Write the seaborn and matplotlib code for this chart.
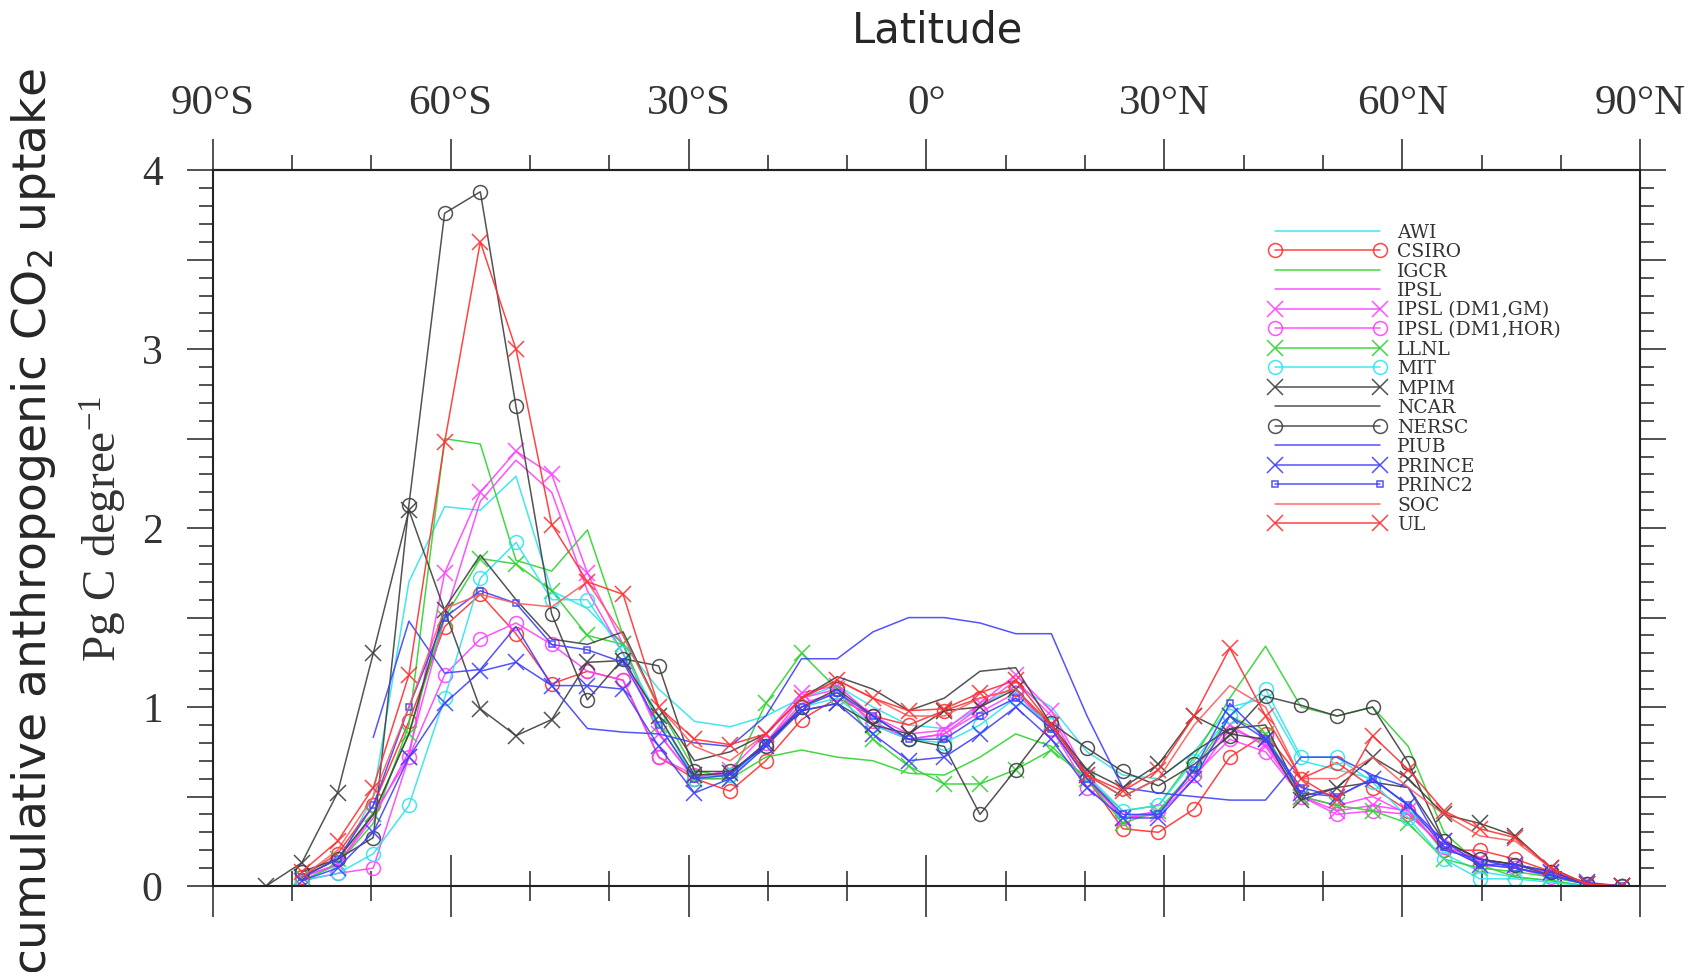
import numpy as np
import matplotlib
matplotlib.use("Agg")
import matplotlib.pyplot as plt
from matplotlib.ticker import MultipleLocator, FuncFormatter
from matplotlib.font_manager import FontProperties
import seaborn as sns

nan = np.nan

# latitude of each 4.5 degree band centre
lat = [-83.25, -78.75, -74.25, -69.75, -65.25, -60.75, -56.25, -51.75, -47.25, -42.75,
       -38.25, -33.75, -29.25, -24.75, -20.25, -15.75, -11.25, -6.75, -2.25, 2.25,
       6.75, 11.25, 15.75, 20.25, 24.75, 29.25, 33.75, 38.25, 42.75, 47.25,
       51.75, 56.25, 60.75, 65.25, 69.75, 74.25, 78.75, 83.25, 87.75]

awi = [nan, 0.03, 0.12, 0.5, 1.7, 2.12, 2.1, 2.29, 1.65, 1.55, 1.35, 1.1, 0.92, 0.89, 0.95,
       1.05, 1.12, 1.0, 0.9, 0.88, 1.0, 1.12, 1.0, 0.75, 0.62, 0.6, 0.75, 1.0, 1.05, 0.7,
       0.65, 0.6, 0.45, 0.18, 0.08, 0.05, 0.03, 0.0, 0.0]
csiro = [nan, 0.05, 0.18, 0.45, 0.92, 1.45, 1.63, 1.41, 1.13, 1.2, 1.15, 0.72, 0.6, 0.53, 0.7,
         0.93, 1.05, 0.95, 0.9, 0.98, 1.05, 1.1, 0.88, 0.6, 0.32, 0.3, 0.43, 0.72, 0.85, 0.6,
         0.69, 0.55, 0.42, 0.2, 0.2, 0.15, 0.08, 0.01, 0.0]
igcr = [nan, 0.03, 0.12, 0.35, 0.9, 2.5, 2.47, 1.82, 1.76, 1.99, 1.4, 1.0, 0.65, 0.6, 0.72,
        0.76, 0.72, 0.7, 0.63, 0.62, 0.72, 0.85, 0.78, 0.6, 0.42, 0.45, 0.72, 1.05, 1.34, 1.0,
        0.95, 1.0, 0.78, 0.3, 0.12, 0.05, 0.03, 0.0, 0.0]
ipsl = [nan, 0.05, 0.12, 0.38, 0.75, 1.5, 2.15, 2.38, 2.2, 1.65, 1.3, 0.85, 0.6, 0.6, 0.8,
        1.05, 1.1, 0.9, 0.82, 0.85, 1.0, 1.15, 0.95, 0.6, 0.38, 0.4, 0.6, 0.88, 0.8, 0.5,
        0.45, 0.5, 0.4, 0.22, 0.15, 0.1, 0.06, 0.01, 0.0]
ipsl_gm = [nan, 0.05, 0.12, 0.4, 0.72, 1.75, 2.2, 2.43, 2.3, 1.75, 1.35, 0.85, 0.6, 0.65, 0.85,
           1.08, 1.12, 0.95, 0.85, 0.87, 1.02, 1.18, 0.98, 0.62, 0.38, 0.4, 0.65, 0.9, 0.78, 0.5,
           0.42, 0.45, 0.42, 0.25, 0.15, 0.12, 0.07, 0.01, 0.0]
ipsl_hor = [nan, 0.03, 0.07, 0.1, 0.72, 1.18, 1.38, 1.47, 1.35, 1.2, 1.15, 0.72, 0.62, 0.62, 0.8,
            1.02, 1.08, 0.92, 0.82, 0.85, 0.97, 1.08, 0.88, 0.55, 0.38, 0.42, 0.62, 0.82, 0.75, 0.5,
            0.4, 0.42, 0.4, 0.22, 0.12, 0.1, 0.05, 0.01, 0.0]
llnl = [nan, 0.05, 0.15, 0.4, 0.85, 1.5, 1.83, 1.8, 1.65, 1.4, 1.35, 0.9, 0.6, 0.6, 1.02,
        1.3, 1.1, 0.82, 0.67, 0.57, 0.57, 0.65, 0.76, 0.6, 0.35, 0.42, 0.65, 0.95, 0.85, 0.5,
        0.45, 0.42, 0.35, 0.15, 0.1, 0.08, 0.05, 0.01, 0.0]
mit = [nan, 0.03, 0.07, 0.18, 0.45, 1.05, 1.72, 1.92, 1.6, 1.6, 1.3, 0.95, 0.6, 0.62, 0.78,
       1.0, 1.05, 0.9, 0.82, 0.8, 0.9, 1.05, 0.9, 0.62, 0.42, 0.45, 0.7, 0.95, 1.1, 0.72,
       0.72, 0.58, 0.38, 0.15, 0.04, 0.04, 0.02, 0.0, 0.0]
mpim = [0.0, 0.13, 0.52, 1.3, 2.1, 1.54, 0.99, 0.84, 0.93, 1.25, 1.26, 0.95, 0.62, 0.63, 0.8,
        0.98, 1.02, 0.9, 0.85, 0.98, 1.0, 1.1, 0.9, 0.65, 0.55, 0.68, 0.95, 0.85, 0.82, 0.48,
        0.55, 0.72, 0.6, 0.4, 0.35, 0.28, 0.1, 0.01, 0.0]
ncar = [nan, 0.05, 0.15, 0.4, 0.85, 1.55, 1.85, 1.6, 1.38, 1.35, 1.42, 1.0, 0.7, 0.75, 0.85,
        1.05, 1.17, 1.1, 0.98, 1.05, 1.2, 1.22, 0.9, 0.62, 0.5, 0.6, 0.75, 0.88, 0.9, 0.5,
        0.55, 0.58, 0.55, 0.25, 0.15, 0.12, 0.06, 0.01, 0.0]
nersc = [nan, 0.08, 0.15, 0.27, 2.13, 3.76, 3.88, 2.68, 1.52, 1.04, 1.27, 1.23, 0.64, 0.64, 0.78,
         1.0, 1.1, 0.95, 0.82, 0.78, 0.40, 0.65, 0.91, 0.77, 0.64, 0.56, 0.68, 0.84, 1.06, 1.01,
         0.95, 1.0, 0.69, 0.25, 0.15, 0.12, 0.08, 0.01, 0.0]
piub = [nan, nan, nan, 0.83, 1.48, 1.19, 1.21, 1.45, 1.12, 0.88, 0.86, 0.85, 0.8, 0.78, 0.95,
        1.27, 1.27, 1.42, 1.5, 1.5, 1.47, 1.41, 1.41, 0.95, 0.55, 0.52, 0.5, 0.48, 0.48, 0.72,
        0.72, 0.62, 0.55, 0.2, 0.15, 0.1, 0.06, 0.01, 0.0]
prince = [nan, 0.03, 0.1, 0.3, 0.72, 1.02, 1.2, 1.25, 1.12, 1.12, 1.1, 0.78, 0.52, 0.6, 0.78,
          0.98, 1.02, 0.85, 0.7, 0.72, 0.85, 1.0, 0.82, 0.55, 0.38, 0.38, 0.6, 0.95, 0.82, 0.52,
          0.5, 0.6, 0.45, 0.25, 0.12, 0.12, 0.08, 0.02, 0.0]
princ2 = [nan, 0.05, 0.15, 0.45, 1.0, 1.5, 1.65, 1.58, 1.35, 1.32, 1.25, 0.9, 0.6, 0.62, 0.8,
          1.0, 1.08, 0.95, 0.82, 0.82, 0.95, 1.05, 0.88, 0.6, 0.4, 0.4, 0.65, 1.02, 0.82, 0.55,
          0.5, 0.6, 0.45, 0.22, 0.12, 0.1, 0.06, 0.01, 0.0]
soc = [nan, 0.05, 0.2, 0.5, 1.0, 1.55, 1.63, 1.58, 1.56, 1.7, 1.4, 1.0, 0.78, 0.7, 0.85,
       1.05, 1.15, 1.05, 0.95, 0.95, 1.05, 1.1, 0.9, 0.62, 0.5, 0.6, 0.9, 1.12, 1.0, 0.6,
       0.6, 0.72, 0.55, 0.4, 0.28, 0.25, 0.1, 0.01, 0.0]
ul = [nan, 0.08, 0.25, 0.55, 1.18, 2.48, 3.6, 3.0, 2.02, 1.7, 1.63, 1.0, 0.82, 0.79, 0.85,
      1.05, 1.15, 1.05, 0.98, 0.99, 1.08, 1.15, 0.9, 0.62, 0.53, 0.65, 0.95, 1.33, 0.95, 0.6,
      0.48, 0.84, 0.65, 0.42, 0.32, 0.27, 0.1, 0.01, 0.0]

models = ["AWI", "CSIRO", "IGCR", "IPSL", "IPSL (DM1,GM)", "IPSL (DM1,HOR)", "LLNL", "MIT",
          "MPIM", "NCAR", "NERSC", "PIUB", "PRINCE", "PRINC2", "SOC", "UL"]
series = [awi, csiro, igcr, ipsl, ipsl_gm, ipsl_hor, llnl, mit,
          mpim, ncar, nersc, piub, prince, princ2, soc, ul]

# line colour and marker per model
cyan, red, green, magenta, grey, blue = "#2ee4ee", "#ff3030", "#2ed42e", "#ff40ff", "#404040", "#4040ff"
colors = [cyan, red, green, magenta, magenta, magenta, green, cyan,
          grey, grey, grey, blue, blue, blue, "#ff5a5a", red]
markers = [None, "o", None, None, "x", "o", "x", "o",
           "x", None, "o", None, "x", "s", None, "x"]

sns.set_style("white")
plt.rcParams["font.family"] = ["Liberation Serif", "DejaVu Serif"]

fig = plt.figure(figsize=(17.01, 9.72), dpi=100)
ax = fig.add_axes([0.125, 0.0885, 0.8393, 0.7363])

for name, vals, c, m in zip(models, series, colors, markers):
    kw = dict(color=c, linewidth=1.1, alpha=0.9)
    if m is not None:
        kw.update(marker=m, markerfacecolor="none", markeredgecolor=c,
                  markeredgewidth=1.1, markersize={"o": 10, "x": 12, "s": 4}[m])
    sns.lineplot(x=lat, y=vals, ax=ax, label=name, legend=False, **kw)

ax.set_xlim(-90, 90)
ax.set_ylim(0, 4)
ax.set_xlabel("")
ax.set_ylabel("")

for sp in ax.spines.values():
    sp.set_linewidth(1.5)
    sp.set_color("#222222")

tick_col = "#333333"
# bottom: ticks crossing the axis, no labels
ax.xaxis.set_major_locator(MultipleLocator(30))
ax.xaxis.set_minor_locator(MultipleLocator(10))
ax.tick_params(axis="x", which="major", direction="inout", length=44, width=1.2,
               color=tick_col, bottom=True, top=False, labelbottom=False)
ax.tick_params(axis="x", which="minor", direction="inout", length=22, width=1.2,
               color=tick_col, bottom=True, top=False)

# top: labelled latitude axis
lat_labels = ["90°S", "60°S", "30°S", "0°", "30°N", "60°N", "90°N"]
secax = ax.secondary_xaxis("top")
secax.set_xticks(list(range(-90, 91, 30)), lat_labels)
secax.xaxis.set_minor_locator(MultipleLocator(10))
secax.tick_params(which="major", direction="out", length=22, width=1.2, color=tick_col,
                  pad=12, labelsize=31, labelcolor=tick_col)
secax.tick_params(which="minor", direction="out", length=11, width=1.2, color=tick_col)
secax.spines["top"].set_linewidth(1.5)

# y ticks on both sides, outward
ax.yaxis.set_major_locator(MultipleLocator(0.5))
ax.yaxis.set_minor_locator(MultipleLocator(0.1))
ax.yaxis.set_major_formatter(FuncFormatter(lambda v, p: f"{int(v)}" if abs(v - round(v)) < 1e-6 else ""))
ax.tick_params(axis="y", which="major", direction="out", length=19, width=1.2, color=tick_col,
               left=True, right=True, pad=17, labelsize=30, labelcolor=tick_col)
ax.tick_params(axis="y", which="minor", direction="out", length=10, width=1.2, color=tick_col,
               left=True, right=True)

fig.text(0.0606, 0.456, "Pg C degree$\\mathregular{^{-1}}$", rotation=90, ha="center", va="center",
         fontsize=34, color=tick_col)
fig.text(0.551, 0.969, "Latitude", ha="center", va="center", fontsize=30,
         family=["DejaVu Sans"])
fig.text(0.0195, 0.463, "cumulative anthropogenic CO$\\mathregular{_2}$ uptake", rotation=90,
         ha="center", va="center", fontsize=34, family=["DejaVu Sans"])

ax.legend(loc="upper left", bbox_to_anchor=(0.746, 0.770), bbox_transform=fig.transFigure,
          frameon=False, numpoints=2, handlelength=6.2, handletextpad=0.65,
          labelspacing=0.08, borderpad=0, borderaxespad=0,
          prop=FontProperties(family="DejaVu Serif", size=13.5), labelcolor="#333333")

fig.savefig("out.png", dpi=100)
